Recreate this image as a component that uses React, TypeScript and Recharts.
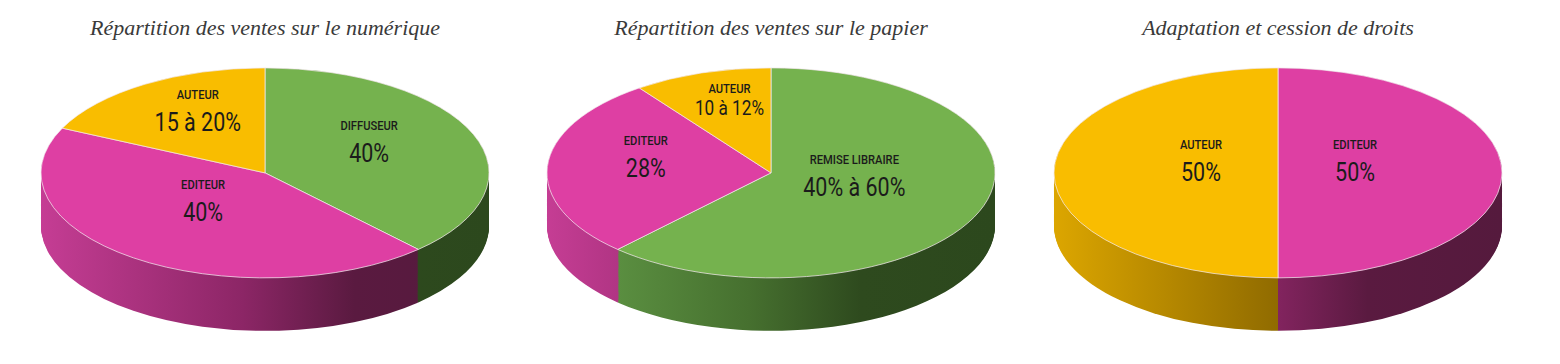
import { PieChart, Pie, Cell } from "recharts";

// --- data -------------------------------------------------------------
const NUM_CATEGORIES = ["DIFFUSEUR", "EDITEUR", "AUTEUR"];
const NUM_VALUES = [38, 44, 18];
const NUM_LABELS = ["40%", "40%", "15 à 20%"];

const PAPER_CATEGORIES = ["REMISE LIBRAIRE", "EDITEUR", "AUTEUR"];
const PAPER_VALUES = [62, 28, 10];
const PAPER_LABELS = ["40% à 60%", "28%", "10 à 12%"];

const RIGHTS_CATEGORIES = ["EDITEUR", "AUTEUR"];
const RIGHTS_VALUES = [50, 50];
const RIGHTS_LABELS = ["50%", "50%"];

const TITLES = [
  "Répartition des ventes sur le numérique",
  "Répartition des ventes sur le papier",
  "Adaptation et cession de droits",
];

// --- geometry / style --------------------------------------------------
const R = 224;
const K = 105 / 224; // vertical squash of the disc
const DEPTH = Math.round(53 / K);
const PAD = 4;
const W = R * 2 + PAD * 2;
const CX = R + PAD;
const CY = R + PAD;
const H = CY + R + DEPTH + PAD;
const CENTER_Y = 173;
const LABEL_LIFT = 15;
const TEXT_SX = 0.86;
const NO_MARGIN = { top: 0, right: 0, bottom: 0, left: 0 };

// how far from the centre each slice label sits (fraction of radius)
const NUM_LABEL_R = [0.5, 0.47, 0.56];
const PAPER_LABEL_R = [0.4, 0.56, 0.6];
const RIGHTS_LABEL_R = [0.344, 0.344];

const WALL_OFFSETS: number[] = [];
for (let d = DEPTH; d > 0; d -= 2) WALL_OFFSETS.push(d);

const TOP: Record<string, string> = {
  yellow: "#F9BD00",
  magenta: "#DE3FA3",
  green: "#75B24E",
};

const WALL: Record<string, [number, string][]> = {
  yellow: [[0, "#DCA600"], [0.5, "#906B00"], [0.75, "#745600"], [1, "#6E5200"]],
  magenta: [[0, "#C53D94"], [0.45, "#8C2666"], [0.7, "#5A1A40"], [1, "#551A3D"]],
  green: [[0, "#65A046"], [0.16, "#5A8E40"], [0.45, "#46702F"], [0.7, "#2E4A1E"], [1, "#2C481D"]],
};

const colorKey = (name: string) =>
  name === "AUTEUR" ? "yellow" : name === "EDITEUR" ? "magenta" : "green";

function Pie3D({
  id,
  title,
  categories,
  values,
  labels,
  centerX,
  labelRadius,
}: {
  id: string;
  title: string;
  categories: string[];
  values: number[];
  labels: string[];
  centerX: number;
  labelRadius: number[];
}) {
  const data = categories.map((name, i) => ({ name, value: values[i] }));

  const renderLabel = (p: any) => {
    const mid = (p.midAngle * Math.PI) / 180;
    const f = labelRadius[p.index];
    const x = p.cx + f * R * Math.cos(mid);
    const y = p.cy - f * R * Math.sin(mid) - LABEL_LIFT / K;
    const small = p.percent < 0.15;
    return (
      <g transform={`translate(${x},${y}) scale(${TEXT_SX},${1 / K})`}>
        <text
          x={0}
          y={small ? -5 : -9}
          textAnchor="middle"
          fontSize={13}
          fontWeight={500}
          fill="#1b1b1b"
          fontFamily="Roboto, sans-serif"
        >
          {categories[p.index]}
        </text>
        <text
          x={0}
          y={small ? 17 : 23}
          textAnchor="middle"
          fontSize={small ? 20 : 25}
          fill="#1b1b1b"
          fontFamily="Roboto, sans-serif"
        >
          {labels[p.index]}
        </text>
      </g>
    );
  };

  return (
    <>
      <div
        style={{
          position: "absolute",
          left: centerX - 250,
          width: 500,
          top: 13,
          textAlign: "center",
          fontFamily: '"Liberation Serif", serif',
          fontStyle: "italic",
          fontSize: 22,
          lineHeight: "30px",
          color: "#3a3a3a",
        }}
      >
        {title}
      </div>
      <div
        style={{
          position: "absolute",
          left: centerX - CX,
          top: CENTER_Y - CY * K,
          width: W,
          height: H,
          transform: `scaleY(${K})`,
          transformOrigin: "0 0",
        }}
      >
        <PieChart width={W} height={H} margin={NO_MARGIN}>
          <defs>
            {Object.keys(WALL).map((k) => (
              <linearGradient
                key={k}
                id={`${id}-wall-${k}`}
                gradientUnits="userSpaceOnUse"
                x1={CX - R}
                y1={0}
                x2={CX + R}
                y2={0}
              >
                {WALL[k].map(([o, c]) => (
                  <stop key={o} offset={o} stopColor={c} />
                ))}
              </linearGradient>
            ))}
          </defs>
          {WALL_OFFSETS.map((d) => (
            <Pie
              key={`wall-${d}`}
              data={data}
              dataKey="value"
              cx={CX}
              cy={CY + d}
              outerRadius={R}
              startAngle={90}
              endAngle={-270}
              stroke="none"
              isAnimationActive={false}
            >
              {data.map((e, i) => (
                <Cell key={i} fill={`url(#${id}-wall-${colorKey(e.name)})`} />
              ))}
            </Pie>
          ))}
          <Pie
            data={data}
            dataKey="value"
            cx={CX}
            cy={CY}
            outerRadius={R}
            startAngle={90}
            endAngle={-270}
            stroke="#ffffff"
            strokeWidth={1}
            labelLine={false}
            label={renderLabel}
            isAnimationActive={false}
          >
            {data.map((e, i) => (
              <Cell
                key={i}
                fill={TOP[colorKey(e.name)]}
                stroke="#f4e9ef"
                vectorEffect="non-scaling-stroke"
              />
            ))}
          </Pie>
        </PieChart>
      </div>
    </>
  );
}

export default function App() {
  return (
    <div
      style={{
        position: "absolute",
        left: 0,
        top: 0,
        width: 1560,
        height: 364,
        background: "#ffffff",
        overflow: "hidden",
      }}
    >
      <Pie3D
        id="num"
        title={TITLES[0]}
        categories={NUM_CATEGORIES}
        values={NUM_VALUES}
        labels={NUM_LABELS}
        centerX={265}
        labelRadius={NUM_LABEL_R}
      />
      <Pie3D
        id="paper"
        title={TITLES[1]}
        categories={PAPER_CATEGORIES}
        values={PAPER_VALUES}
        labels={PAPER_LABELS}
        centerX={771}
        labelRadius={PAPER_LABEL_R}
      />
      <Pie3D
        id="rights"
        title={TITLES[2]}
        categories={RIGHTS_CATEGORIES}
        values={RIGHTS_VALUES}
        labels={RIGHTS_LABELS}
        centerX={1278}
        labelRadius={RIGHTS_LABEL_R}
      />
    </div>
  );
}
